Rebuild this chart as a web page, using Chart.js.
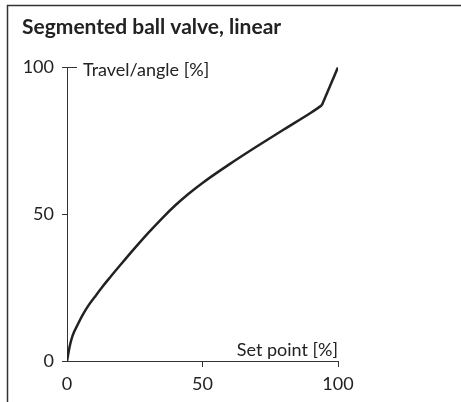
<!DOCTYPE html>
<html>
<head>
<meta charset="utf-8">
<script src="https://cdn.jsdelivr.net/npm/chart.js@4"></script>
<style>
  html, body { margin: 0; padding: 0; background: #fff; }
  #wrap { width: 461px; height: 402px; }
</style>
</head>
<body>
<div id="wrap"><canvas id="chart" width="461" height="402"></canvas></div>
<script>
// Valores
const setPoint = [0, 1, 2, 4, 6, 8, 10, 13, 16, 20, 25, 30, 35, 40, 45, 50, 60, 70, 80, 90, 94, 100];
const travel = [0, 5, 8.5, 12.5, 16, 19, 21.5, 25.2, 28.6, 33, 38.4, 43.6, 48.5, 53, 57, 60.6, 67, 73, 78.8, 84.5, 87, 100];
const kinkAt = 94; // a partir de aquí el tramo es recto
const xTicks = [0, 50, 100];
const yTicks = [0, 50, 100];

const titleText = 'Segmented ball valve, linear';
const xLabel = 'Set point [%]';
const yLabel = 'Travel/angle [%]';

const ink = '#222';
const fontFamily = 'Lato, "Noto Sans", sans-serif';

Chart.defaults.font.family = fontFamily;
Chart.defaults.color = ink;

const points = setPoint.map((v, i) => ({ x: v, y: travel[i] }));
const curve = points.filter(p => p.x <= kinkAt);
const tail = points.filter(p => p.x >= kinkAt);

// Marco y títulos de los ejes
const framePlugin = {
    id: 'frame',
    beforeDraw(chart) {
        const ctx = chart.ctx;
        ctx.save();
        ctx.fillStyle = '#fff';
        ctx.fillRect(0, 0, chart.width, chart.height);
        ctx.strokeStyle = '#333';
        ctx.lineWidth = 1.5;
        ctx.beginPath();
        ctx.moveTo(7.5, chart.height);
        ctx.lineTo(7.5, 5.5);
        ctx.lineTo(chart.width, 5.5);
        ctx.stroke();
        ctx.restore();
    },
    afterDraw(chart) {
        const ctx = chart.ctx;
        const x = chart.scales.x;
        const y = chart.scales.y;
        ctx.save();
        ctx.strokeStyle = '#333';
        ctx.lineWidth = 1;
        // marca superior que cruza el eje
        const y100 = Math.round(y.getPixelForValue(100)) + 0.5;
        const x0 = x.getPixelForValue(0);
        ctx.beginPath();
        ctx.moveTo(x0, y100);
        ctx.lineTo(x0 + 10, y100);
        ctx.stroke();

        ctx.fillStyle = ink;
        ctx.font = '18px ' + fontFamily;
        ctx.textBaseline = 'middle';
        ctx.textAlign = 'left';
        ctx.fillText(yLabel, x0 + 16, y100 + 3);
        ctx.textAlign = 'right';
        ctx.textBaseline = 'alphabetic';
        ctx.fillText(xLabel, x.getPixelForValue(100), y.getPixelForValue(0) - 5);
        ctx.restore();
    }
};

const lineStyle = {
    showLine: true,
    borderColor: ink,
    borderWidth: 2.5,
    pointRadius: 0
};

new Chart(document.getElementById('chart'), {
    type: 'scatter',
    data: {
        datasets: [
            Object.assign({ data: curve, cubicInterpolationMode: 'monotone' }, lineStyle),
            Object.assign({ data: tail, tension: 0 }, lineStyle)
        ]
    },
    options: {
        responsive: false,
        animation: false,
        layout: { padding: { left: 22, right: 123, top: 0, bottom: 0 } },
        plugins: {
            legend: { display: false },
            tooltip: { enabled: false },
            title: {
                display: true,
                text: titleText,
                align: 'start',
                color: ink,
                font: { size: 21, weight: 'bold' },
                padding: { top: 15, bottom: 27 }
            }
        },
        scales: {
            x: {
                type: 'linear',
                min: 0,
                max: 100,
                afterBuildTicks: s => { s.ticks = xTicks.map(v => ({ value: v })); },
                afterFit: s => { s.height = 41; },
                ticks: { font: { size: 18 }, color: ink, padding: 6, maxRotation: 0 },
                grid: {
                    drawOnChartArea: false,
                    tickLength: 6,
                    color: c => (c.tick && c.tick.value === 0 ? 'rgba(0,0,0,0)' : '#333')
                },
                border: { color: '#333', width: 1 }
            },
            y: {
                type: 'linear',
                min: 0,
                max: 100,
                afterBuildTicks: s => { s.ticks = yTicks.map(v => ({ value: v })); },
                afterFit: s => { s.width = 45; },
                ticks: { font: { size: 18 }, color: ink, padding: 8 },
                grid: { drawOnChartArea: false, tickLength: 5, color: '#333' },
                border: { color: '#333', width: 1 }
            }
        }
    },
    plugins: [framePlugin]
});
</script>
</body>
</html>
